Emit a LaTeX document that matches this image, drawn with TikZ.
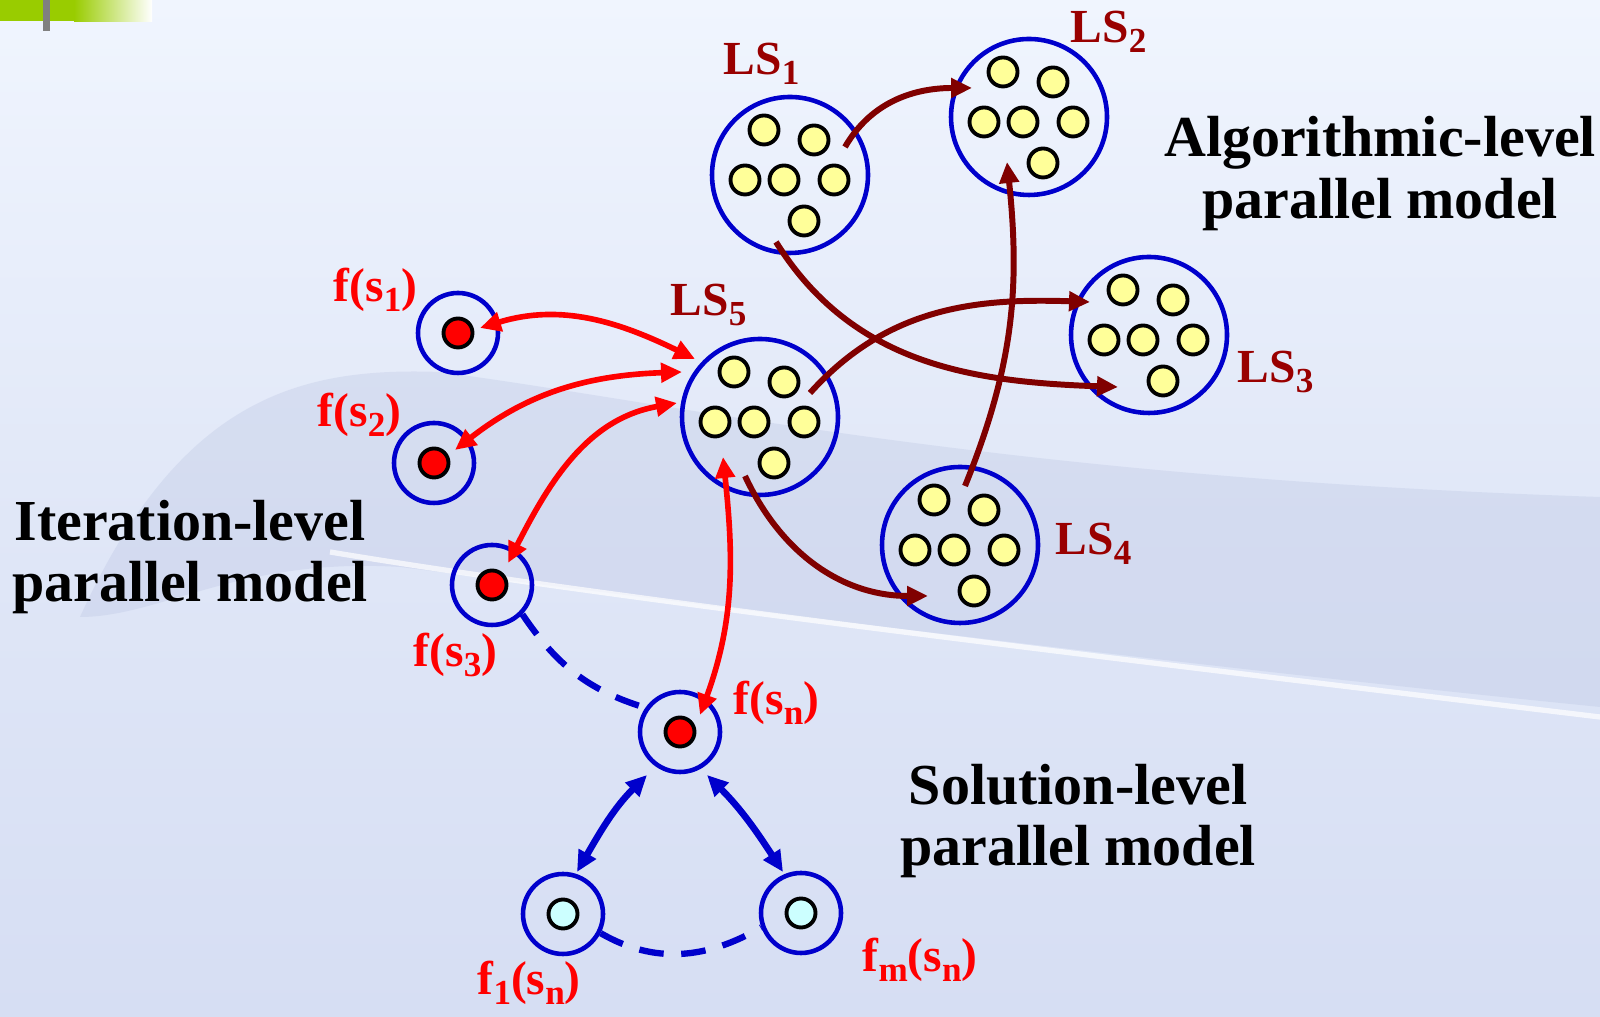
\documentclass[tikz,border=0pt]{standalone}
\usepackage{fontspec}
\setmainfont{Liberation Serif}
\usetikzlibrary{arrows.meta,positioning,calc}
\definecolor{lsblue}{RGB}{0,0,204}
\definecolor{gemyellow}{RGB}{255,255,153}
\definecolor{algred}{RGB}{128,0,0}
\definecolor{lsred}{RGB}{153,0,0}
\definecolor{itred}{RGB}{255,0,0}
\definecolor{solcyan}{RGB}{204,255,255}
\definecolor{bgtop}{RGB}{240,245,254}
\definecolor{bgbase}{RGB}{214,222,243}
\definecolor{bgdark}{RGB}{180,190,222}
\definecolor{barlime}{RGB}{153,204,0}
\newcommand\lblfont{\fontsize{13.5}{16}\selectfont\bfseries}
\newcommand\modelfont{\fontsize{16.5}{17.6}\selectfont\bfseries}
\newcommand\lsub[1]{\raisebox{-2.8pt}{\fontsize{10}{10}\selectfont #1}}

\begin{document}
\begin{tikzpicture}[
  >={Triangle[length=2.1mm,width=1.9mm]},
  lsbox/.style={circle, draw=lsblue, line width=1.3pt, minimum size=1.56cm, inner sep=0pt},
  solbox/.style={circle, draw=lsblue, line width=1.3pt, minimum size=0.80cm, inner sep=0pt},
  gem/.style={circle, draw=black, line width=1.1pt, fill=gemyellow, minimum size=0.29cm, inner sep=0pt},
  reddot/.style={gem, fill=itred},
  cyandot/.style={gem, fill=solcyan},
  lslabel/.style={text=lsred, font=\lblfont, anchor=base west, inner sep=0pt},
  flabel/.style={lslabel, text=itred},
  model/.style={font=\modelfont, align=center, inner sep=0pt},
  algarrow/.style={draw=algred, line width=1.7pt, ->},
  itarrow/.style={draw=itred, line width=1.6pt, <->},
  solarrow/.style={draw=lsblue, line width=1.9pt, <->},
  soldash/.style={draw=lsblue, line width=1.8pt, dash pattern=on 7pt off 5pt}
]
  % background
  \useasboundingbox (0,0) rectangle (16,10.17);
  \shade[top color=bgtop, bottom color=bgbase, middle color=bgbase!60!bgtop] (0,0) rectangle (16,10.17);
  \fill[bgdark, opacity=0.28] (0.8,4.0) .. controls (1.8,6.2) and (3.0,6.5) .. (4.4,6.45)
    .. controls (7.0,6.1) and (10.0,5.4) .. (16,5.2) -- (16,3.1)
    .. controls (12,3.5) and (8,4.0) .. (4.0,4.5) .. controls (2.4,4.6) and (1.6,4.0) .. cycle;
  \draw[white, line width=1.5pt, opacity=0.7] (3.3,4.65) .. controls (6,4.2) and (11,3.6) .. (16,3.0);
  \fill[barlime] (0,9.96) rectangle (0.74,10.17);
  \shade[left color=barlime, right color=white] (0.74,9.95) rectangle (1.52,10.17);
  \fill[gray] (0.43,9.86) rectangle (0.50,10.17);

  % local searches
  \node[lsbox] (ls1) at (7.90,8.42) {};
  \node[lsbox] (ls2) at (10.29,9.00) {};
  \node[lsbox] (ls3) at (11.49,6.82) {};
  \node[lsbox] (ls4) at (9.60,4.72) {};
  \node[lsbox] (ls5) at (7.60,6.00) {};
  \foreach \ls in {ls1,ls2,ls3,ls4,ls5}{
    \foreach \dx/\dy [count=\i] in {-0.26/0.45,0.24/0.35,-0.45/-0.05,-0.06/-0.05,0.44/-0.05,0.14/-0.46}
      \node[gem] (\ls-g\i) at ($(\ls)+(\dx,\dy)$) {};
  }

  % solutions
  \node[solbox] (fs1) at (4.58,6.84) {};
  \node[solbox] (fs2) at (4.34,5.54) {};
  \node[solbox] (fs3) at (4.92,4.32) {};
  \node[solbox] (fsn) at (6.80,2.85) {};
  \node[solbox] (f1sn) at (5.63,1.03) {};
  \node[solbox] (fmsn) at (8.01,1.04) {};
  \foreach \s in {fs1,fs2,fs3,fsn}
    \node[reddot] (\s-dot) at (\s) {};
  \foreach \s in {f1sn,fmsn}
    \node[cyandot] (\s-dot) at (\s) {};

  % algorithmic level
  \draw[algarrow] ($(ls1)+(0.55,0.28)$) to[out=60,in=180] ($(ls2)+(-0.57,0.29)$);
  \draw[algarrow] ($(ls1)+(-0.14,-0.67)$) to[out=-58,in=178] ($(ls3)+(-0.31,-0.52)$);
  \draw[algarrow] ($(ls5)+(0.50,0.24)$) to[out=48,in=178] ($(ls3)+(-0.59,0.33)$);
  \draw[algarrow] ($(ls4)+(0.05,0.59)$) to[out=68,in=-84] ($(ls2)+(-0.22,-0.45)$);
  \draw[algarrow] ($(ls5)+(-0.15,-0.59)$) to[out=-65,in=180] ($(ls4)+(-0.32,-0.51)$);

  % iteration level
  \draw[itarrow] ($(fs1)+(0.22,0.05)$) to[out=17,in=154] ($(ls5)+(-0.65,0.58)$);
  \draw[itarrow] ($(fs2)+(0.21,0.13)$) to[out=38,in=182] ($(ls5)+(-0.78,0.45)$);
  \draw[itarrow] ($(fs3)+(0.16,0.22)$) to[out=63,in=190] ($(ls5)+(-0.83,0.14)$);
  \draw[itarrow] ($(ls5)+(-0.37,-0.40)$) to[out=-84,in=70] ($(fsn)+(0.20,0.17)$);

  % solution level
  \draw[solarrow] ($(fsn)+(-0.33,-0.43)$) to[out=-135,in=60] ($(f1sn)+(0.14,0.42)$);
  \draw[solarrow] ($(fsn)+(0.27,-0.43)$) to[out=-45,in=123] ($(fmsn)+(-0.18,0.41)$);
  \draw[soldash] (fs3.-44) to[out=-56,in=163] (fsn.145);
  \draw[soldash] (f1sn.-27) to[out=-30,in=210] (fmsn.200);

  % labels
  \node[lslabel] (ls1-lbl) at (7.23,9.42) {LS\lsub{1}};
  \node[lslabel] (ls2-lbl) at (10.70,9.74) {LS\lsub{2}};
  \node[lslabel] (ls3-lbl) at (12.37,6.34) {LS\lsub{3}};
  \node[lslabel] (ls4-lbl) at (10.55,4.62) {LS\lsub{4}};
  \node[lslabel] (ls5-lbl) at (6.70,7.01) {LS\lsub{5}};
  \node[flabel] (fs1-lbl) at (3.33,7.15) {f(s\lsub{1})};
  \node[flabel] (fs2-lbl) at (3.17,5.90) {f(s\lsub{2})};
  \node[flabel] (fs3-lbl) at (4.13,3.50) {f(s\lsub{3})};
  \node[flabel] (fsn-lbl) at (7.33,3.02) {f(s\lsub{n})};
  \node[flabel] (f1sn-lbl) at (4.77,0.22) {f\lsub{1}(s\lsub{n})};
  \node[flabel] (fmsn-lbl) at (8.62,0.45) {f\lsub{m}(s\lsub{n})};

  \node[model] (alg-lbl) at (13.80,8.43) {Algorithmic-level\\parallel model};
  \node[model] (it-lbl) at (1.90,4.60) {Iteration-level\\parallel model};
  \node[model] (sol-lbl) at (10.78,1.96) {Solution-level\\parallel model};
\end{tikzpicture}
\end{document}
